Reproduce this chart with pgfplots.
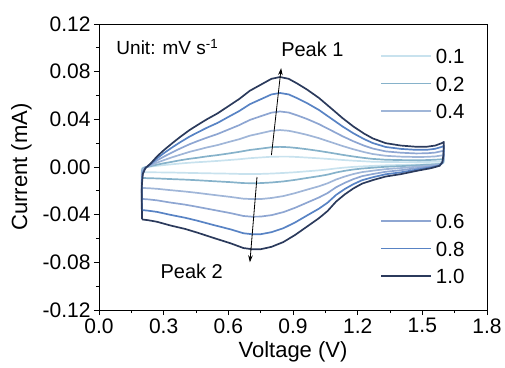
\documentclass[border=0pt]{standalone}
\usepackage{pgfplots}
\usepackage{pgfplotstable}
\pgfplotsset{compat=1.18}
\usepackage{fontspec}
\setmainfont{Liberation Sans}
\usetikzlibrary{arrows.meta}

\definecolor{cA}{HTML}{C8E2EE}
\definecolor{cB}{HTML}{86B2CA}
\definecolor{cC}{HTML}{A0B6D8}
\definecolor{cD}{HTML}{8EA6D2}
\definecolor{cE}{HTML}{5883C4}
\definecolor{cF}{HTML}{2B3A5C}

\pgfplotstableread{
V c10 c08 c06 c04 c02 c01
0.200 -0.0440 -0.0361 -0.0268 -0.0176 -0.0092 -0.0044
0.198 -0.0300 -0.0246 -0.0183 -0.0120 -0.0063 -0.0030
0.199 -0.0150 -0.0123 -0.0092 -0.0060 -0.0032 -0.0015
0.203 -0.0060 -0.0049 -0.0037 -0.0024 -0.0013 -0.0006
0.215 -0.0010 -0.0008 -0.0006 -0.0004 -0.0002 -0.0001
0.240 0.0030 0.0025 0.0019 0.0013 0.0007 0.0004
0.270 0.0090 0.0074 0.0056 0.0037 0.0020 0.0010
0.300 0.0140 0.0115 0.0086 0.0057 0.0031 0.0016
0.340 0.0200 0.0165 0.0123 0.0082 0.0044 0.0023
0.375 0.0250 0.0206 0.0154 0.0102 0.0056 0.0029
0.420 0.0310 0.0255 0.0191 0.0127 0.0069 0.0036
0.455 0.0350 0.0288 0.0216 0.0143 0.0077 0.0040
0.500 0.0400 0.0329 0.0246 0.0164 0.0089 0.0045
0.550 0.0450 0.0370 0.0277 0.0184 0.0100 0.0051
0.600 0.0510 0.0420 0.0314 0.0209 0.0113 0.0058
0.650 0.0570 0.0469 0.0351 0.0233 0.0127 0.0065
0.700 0.0640 0.0527 0.0395 0.0263 0.0143 0.0074
0.750 0.0690 0.0568 0.0426 0.0283 0.0154 0.0080
0.800 0.0740 0.0609 0.0456 0.0304 0.0166 0.0086
0.840 0.0755 0.0621 0.0466 0.0310 0.0169 0.0087
0.880 0.0740 0.0609 0.0457 0.0304 0.0166 0.0087
0.920 0.0700 0.0577 0.0433 0.0289 0.0159 0.0084
0.965 0.0650 0.0536 0.0403 0.0270 0.0149 0.0079
1.020 0.0580 0.0479 0.0360 0.0242 0.0135 0.0073
1.085 0.0480 0.0397 0.0300 0.0203 0.0116 0.0065
1.130 0.0410 0.0340 0.0258 0.0176 0.0102 0.0059
1.180 0.0340 0.0283 0.0216 0.0149 0.0088 0.0053
1.230 0.0280 0.0234 0.0179 0.0125 0.0076 0.0048
1.270 0.0240 0.0201 0.0155 0.0109 0.0068 0.0044
1.330 0.0200 0.0168 0.0131 0.0094 0.0061 0.0042
1.400 0.0180 0.0152 0.0120 0.0087 0.0058 0.0041
1.470 0.0170 0.0144 0.0114 0.0084 0.0057 0.0041
1.520 0.0170 0.0144 0.0115 0.0085 0.0058 0.0042
1.560 0.0180 0.0153 0.0121 0.0089 0.0061 0.0044
1.590 0.0200 0.0169 0.0133 0.0097 0.0065 0.0046
1.600 0.0210 0.0177 0.0139 0.0101 0.0067 0.0047
1.598 0.0100 0.0087 0.0072 0.0057 0.0044 0.0036
1.593 0.0040 0.0038 0.0036 0.0033 0.0031 0.0030
1.580 0.0010 0.0013 0.0017 0.0021 0.0025 0.0027
1.540 -0.0010 -0.0003 0.0005 0.0013 0.0020 0.0024
1.480 -0.0030 -0.0020 -0.0008 0.0004 0.0015 0.0021
1.400 -0.0060 -0.0045 -0.0027 -0.0009 0.0007 0.0017
1.330 -0.0080 -0.0061 -0.0040 -0.0018 0.0002 0.0014
1.270 -0.0110 -0.0086 -0.0059 -0.0031 -0.0006 0.0009
1.220 -0.0140 -0.0111 -0.0077 -0.0043 -0.0013 0.0005
1.180 -0.0180 -0.0144 -0.0102 -0.0059 -0.0021 0.0001
1.140 -0.0230 -0.0185 -0.0133 -0.0080 -0.0032 -0.0005
1.100 -0.0290 -0.0234 -0.0170 -0.0105 -0.0046 -0.0012
1.060 -0.0370 -0.0300 -0.0219 -0.0137 -0.0064 -0.0021
1.020 -0.0430 -0.0350 -0.0256 -0.0162 -0.0077 -0.0028
0.965 -0.0500 -0.0407 -0.0299 -0.0190 -0.0092 -0.0036
0.910 -0.0570 -0.0465 -0.0342 -0.0219 -0.0108 -0.0044
0.855 -0.0630 -0.0514 -0.0379 -0.0244 -0.0121 -0.0050
0.800 -0.0670 -0.0547 -0.0404 -0.0260 -0.0130 -0.0055
0.750 -0.0690 -0.0564 -0.0416 -0.0269 -0.0135 -0.0058
0.710 -0.0690 -0.0564 -0.0417 -0.0269 -0.0136 -0.0059
0.670 -0.0680 -0.0556 -0.0411 -0.0266 -0.0135 -0.0059
0.610 -0.0640 -0.0523 -0.0387 -0.0251 -0.0127 -0.0056
0.540 -0.0600 -0.0491 -0.0363 -0.0236 -0.0120 -0.0054
0.455 -0.0550 -0.0450 -0.0334 -0.0217 -0.0111 -0.0051
0.400 -0.0520 -0.0426 -0.0316 -0.0206 -0.0106 -0.0049
0.330 -0.0490 -0.0401 -0.0298 -0.0194 -0.0101 -0.0046
0.270 -0.0460 -0.0377 -0.0280 -0.0183 -0.0096 -0.0045
0.230 -0.0447 -0.0367 -0.0272 -0.0178 -0.0094 -0.0044
0.200 -0.0440 -0.0361 -0.0268 -0.0176 -0.0092 -0.0044
}\cvdata

\begin{document}
\begin{tikzpicture}
\useasboundingbox (-99pt,-57pt) rectangle (406pt,310pt);
\begin{axis}[
  at={(0pt,0pt)}, anchor=south west,
  scale only axis, width=388pt, height=286pt,
  xmin=0, xmax=1.8, ymin=-0.12, ymax=0.12,
  xtick={0,0.3,0.6,0.9,1.2,1.5,1.8},
  ytick={-0.12,-0.08,-0.04,0,0.04,0.08,0.12},
  minor x tick num=1, minor y tick num=1,
  tick align=outside, tick pos=left,
  major tick length=5pt, minor tick length=3pt,
  axis line style={line width=0.9pt},
  every tick/.style={black, line width=0.9pt},
  scaled ticks=false,
  xticklabel style={/pgf/number format/.cd, fixed, fixed zerofill, precision=1, assume math mode=true},
  yticklabel style={/pgf/number format/.cd, fixed, fixed zerofill, precision=2, assume math mode=true},
  ticklabel style={font=\fontsize{21}{21}\selectfont},
  xlabel={Voltage (V)}, ylabel={Current (mA)},
  label style={font=\fontsize{22}{22}\selectfont},
  xlabel style={at={(axis description cs:0.5,-0.147)}, anchor=center},
  ylabel style={at={(axis description cs:-0.2,0.5)}, anchor=center, rotate=0},
  legend cell align=left,
  legend image code/.code={\draw[#1, line width=1.8pt] (0pt,0pt) -- (50pt,0pt);},
  legend style={draw=none, fill=none, at={(axis description cs:0.724,0.915)}, anchor=north west,
    font=\fontsize{20.5}{20.5}\selectfont, inner sep=0pt, row sep=12.5pt, column sep=4pt,
    nodes={inner sep=0pt, text height=15pt, text depth=0pt}},
]
\addplot[cA, line width=1.7pt, line join=round] table[x=V, y=c01] {\cvdata};
\addlegendentry{0.1}
\addplot[cB, line width=1.7pt, line join=round] table[x=V, y=c02] {\cvdata};
\addlegendentry{0.2}
\addplot[cC, line width=1.7pt, line join=round] table[x=V, y=c04] {\cvdata};
\addlegendentry{0.4}
\addlegendimage{empty legend}\addlegendentry{}
\addlegendimage{empty legend}\addlegendentry{}
\addlegendimage{empty legend}\addlegendentry{}
\addplot[cD, line width=1.7pt, line join=round] table[x=V, y=c06] {\cvdata};
\addlegendentry{0.6}
\addplot[cE, line width=1.7pt, line join=round] table[x=V, y=c08] {\cvdata};
\addlegendentry{0.8}
\addplot[cF, line width=1.7pt, line join=round] table[x=V, y=c10] {\cvdata};
\addlegendentry{1.0}
\node[anchor=west, font=\fontsize{19}{19}\selectfont] at (axis description cs:0.036,0.92) {Unit: mV s\textsuperscript{-1}};
\node[font=\fontsize{20}{20}\selectfont] at (axis cs:0.99,0.0986) {Peak 1};
\node[font=\fontsize{20}{20}\selectfont] at (axis cs:0.43,-0.0873) {Peak 2};
\draw[-{Stealth[length=7pt,width=4.5pt]}, line width=0.8pt] (axis cs:0.80,0.010) -- (axis cs:0.845,0.083);
\draw[-{Stealth[length=7pt,width=4.5pt]}, line width=0.8pt] (axis cs:0.733,-0.0084) -- (axis cs:0.70,-0.080);
\end{axis}
\end{tikzpicture}
\end{document}
